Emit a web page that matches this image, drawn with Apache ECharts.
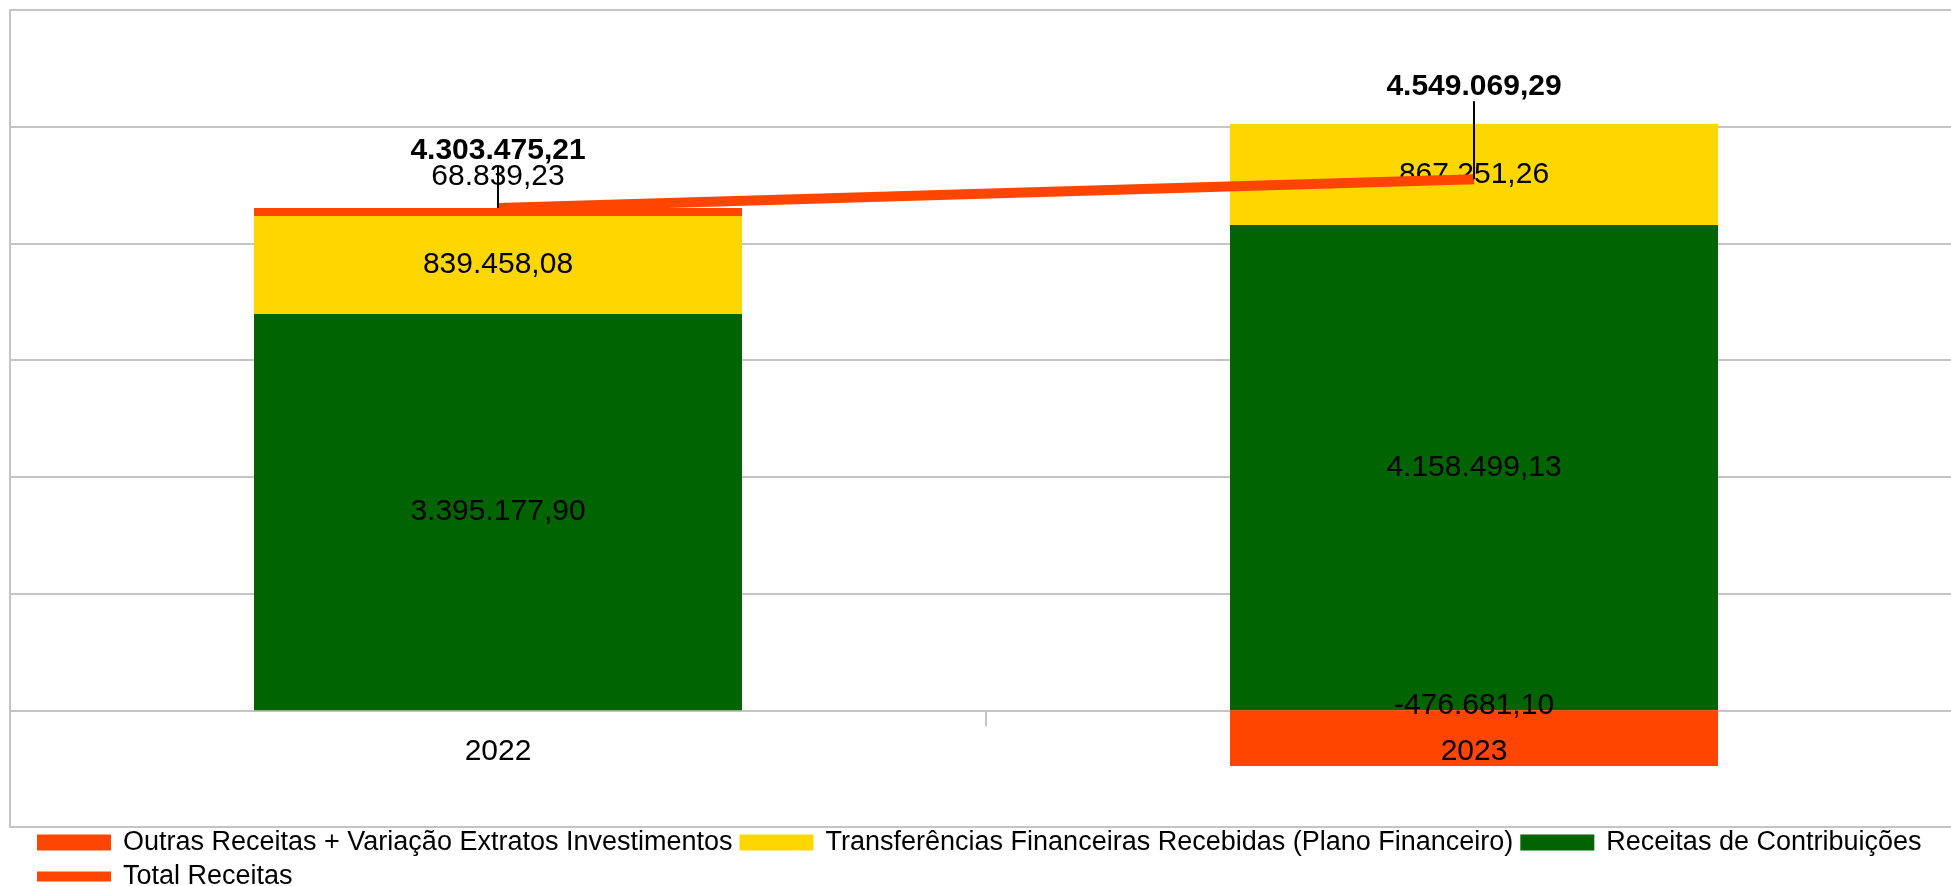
<!DOCTYPE html>
<html>
<head>
    <meta charset="utf-8">
    <title>Receitas 2022 x 2023</title>
    <script src="https://cdn.jsdelivr.net/npm/echarts@6/dist/echarts.min.js"></script>
    <style>html, body { margin: 0; padding: 0; background: #fff; }</style>
</head>
<body>
    <div id="main" style="width: 1951px;height:886px;"></div>
    <script type="text/javascript">
        // dados
        var anos = ['2022', '2023'];
        var contribuicoes = [3395177.90, 4158499.13];
        var transferencias = [839458.08, 867251.26];
        var outras = [68839.23, -476681.10];
        var totais = [4303475.21, 4549069.29];
        var nomes = [
            'Outras Receitas + Variação Extratos Investimentos',
            'Transferências Financeiras Recebidas (Plano Financeiro)',
            'Receitas de Contribuições',
            'Total Receitas'
        ];

        var fonte = 'Liberation Sans, Arial, sans-serif';
        var cinza = '#c4c4c4';

        // formato pt-BR: 4.303.475,21
        function brl(v) {
            var neg = v < 0;
            var partes = Math.abs(v).toFixed(2).split('.');
            var inteiro = partes[0].replace(/\B(?=(\d{3})+(?!\d))/g, '.');
            return (neg ? '-' : '') + inteiro + ',' + partes[1];
        }
        function rotulo(p) { return brl(p.value); }

        var myChart = echarts.init(document.getElementById('main'));

        var labelBarra = {
            show: true,
            position: 'inside',
            fontSize: 30,
            color: '#000',
            fontFamily: fonte,
            formatter: rotulo
        };

        var option = {
            animation: false,
            textStyle: { fontFamily: fonte },
            grid: {
                left: 10, top: 10, width: 1952, height: 817,
                outerBoundsMode: 'none',
                show: true, borderColor: cinza, borderWidth: 2
            },
            legend: {
                data: [
                    { name: nomes[0], icon: 'rect' },
                    { name: nomes[1], icon: 'rect' },
                    { name: nomes[2], icon: 'rect' },
                    { name: nomes[3], icon: 'path://M0,0h74v10h-74z' }
                ],
                left: 37,
                top: 829,
                width: 1890,
                padding: 0,
                itemWidth: 74,
                itemHeight: 16,
                itemGap: 7,
                textStyle: {
                    fontSize: 27,
                    color: '#000',
                    lineHeight: 23,
                    padding: [0, 0, 0, 7],
                    fontFamily: fonte
                }
            },
            xAxis: {
                type: 'category',
                data: anos,
                z: 10,
                axisLine: { show: true, onZero: true, lineStyle: { color: 'rgba(0,0,0,0)', width: 0 } },
                axisTick: { show: true, length: 16, lineStyle: { color: cinza, width: 2 } },
                // os rótulos ficam na borda da grade; margem negativa os traz para junto do zero
                axisLabel: { fontSize: 30, color: '#000', margin: -90, fontFamily: fonte }
            },
            yAxis: {
                type: 'value',
                min: -1000000,
                max: 6000000,
                interval: 1000000,
                axisLabel: { show: false },
                axisLine: { show: false },
                axisTick: { show: false },
                splitLine: { lineStyle: { color: cinza, width: 2 } }
            },
            series: [
                {
                    name: nomes[2],
                    type: 'bar',
                    stack: 'receitas',
                    barWidth: '50%',
                    itemStyle: { color: '#006400' },
                    label: labelBarra,
                    data: contribuicoes
                },
                {
                    name: nomes[1],
                    type: 'bar',
                    stack: 'receitas',
                    barWidth: '50%',
                    itemStyle: { color: '#ffd700' },
                    label: labelBarra,
                    data: transferencias
                },
                {
                    name: nomes[0],
                    type: 'bar',
                    stack: 'receitas',
                    barWidth: '50%',
                    itemStyle: { color: '#ff4500' },
                    label: labelBarra,
                    data: outras.map(function (v) {
                        return {
                            value: v,
                            label: v < 0 ? { position: 'top', distance: -10 } : { position: 'top', distance: 16 }
                        };
                    })
                },
                {
                    name: nomes[3],
                    type: 'line',
                    symbol: 'circle',
                    symbolSize: 0.1,
                    itemStyle: { color: '#ff4500' },
                    lineStyle: { color: '#ff4500', width: 10 },
                    label: {
                        show: true,
                        position: 'top',
                        distance: 5,
                        fontSize: 30,
                        fontWeight: 'bold',
                        color: '#000',
                        fontFamily: fonte,
                        formatter: rotulo
                    },
                    labelLayout: function (p) {
                        return p.dataIndex === 0 ? { dy: -37 } : { dy: -73 };
                    },
                    labelLine: { show: true, lineStyle: { color: '#000', width: 2 } },
                    data: totais
                }
            ]
        };

        myChart.setOption(option);
    </script>
</body>
</html>
